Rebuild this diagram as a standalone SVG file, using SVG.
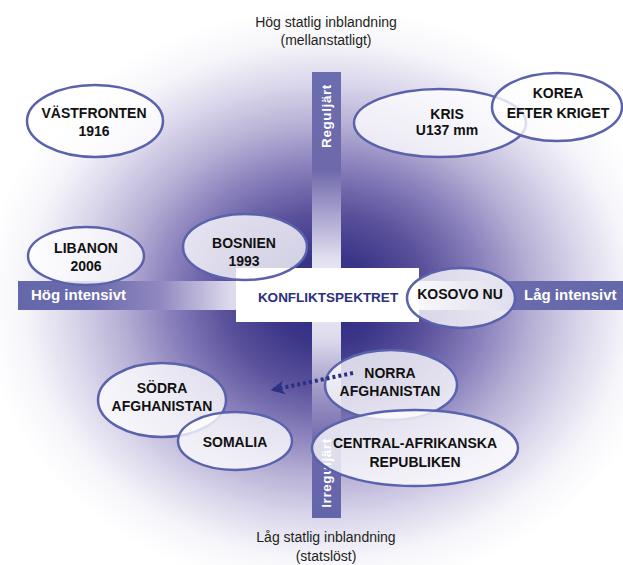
<svg xmlns="http://www.w3.org/2000/svg" width="623" height="565" viewBox="0 0 623 565">
<defs>
<radialGradient id="bg" gradientUnits="userSpaceOnUse" cx="327" cy="300" r="345" gradientTransform="translate(327,300) scale(1,0.85) translate(-327,-300)">
<stop offset="0" stop-color="#2a2a7e"/>
<stop offset="0.15" stop-color="#3a3588"/>
<stop offset="0.3" stop-color="#5a519b"/>
<stop offset="0.45" stop-color="#867dba"/>
<stop offset="0.6" stop-color="#b7b0d5"/>
<stop offset="0.75" stop-color="#dcd8ec"/>
<stop offset="0.88" stop-color="#f6f5fa"/>
<stop offset="1" stop-color="#ffffff"/>
</radialGradient>
<linearGradient id="vbar" gradientUnits="userSpaceOnUse" x1="0" y1="72" x2="0" y2="518">
<stop offset="0" stop-color="#6a6dae"/>
<stop offset="0.22" stop-color="#6e69ab"/>
<stop offset="0.31" stop-color="#a49ecc"/>
<stop offset="0.42" stop-color="#e2e0ef"/>
<stop offset="0.5" stop-color="#f2f1f8"/>
<stop offset="0.6" stop-color="#dcd9ec"/>
<stop offset="0.72" stop-color="#9d96c6"/>
<stop offset="0.84" stop-color="#6c66aa"/>
<stop offset="1" stop-color="#6466aa"/>
</linearGradient>
<linearGradient id="hbar" gradientUnits="userSpaceOnUse" x1="18" y1="0" x2="623" y2="0">
<stop offset="0" stop-color="#6468aa"/>
<stop offset="0.12" stop-color="#6a6aac"/>
<stop offset="0.235" stop-color="#9088c0"/>
<stop offset="0.35" stop-color="#dcd9ec"/>
<stop offset="0.51" stop-color="#ffffff"/>
<stop offset="0.665" stop-color="#dcd9ec"/>
<stop offset="0.78" stop-color="#8a84bc"/>
<stop offset="0.82" stop-color="#6a6aac"/>
<stop offset="1" stop-color="#6468aa"/>
</linearGradient>
<marker id="ah" markerWidth="14" markerHeight="14" viewBox="0 0 10 10" refX="9" refY="5" orient="auto" markerUnits="userSpaceOnUse">
<path d="M0,0 L10,5 L0,10 L3,5 z" fill="#2b3183"/>
</marker>
<style>
.ell{fill:#ffffff;fill-opacity:0.78;stroke:#5a62ab;stroke-width:2.5}
.nt{font-family:"Liberation Sans",Arial,sans-serif;font-weight:bold;font-size:14px;fill:#111111;text-anchor:middle}
.ax{font-family:"Liberation Sans",Arial,sans-serif;font-size:14px;fill:#231f20;text-anchor:middle}
.bl{font-family:"Liberation Sans",Arial,sans-serif;font-weight:bold;font-size:15px;fill:#ffffff}
.vl{font-family:"Liberation Sans",Arial,sans-serif;font-weight:bold;font-size:13.5px;fill:#ffffff;text-anchor:middle;letter-spacing:0.6px}
</style>
</defs>
<rect x="0" y="0" width="623" height="565" fill="url(#bg)"/>
<rect x="312" y="72" width="29" height="446" fill="url(#vbar)"/>
<rect x="18" y="281" width="605" height="29" fill="url(#hbar)"/>
<g id="axis-labels">
<text class="ax" x="326" y="27">Hög statlig inblandning</text>
<text class="ax" x="326" y="45">(mellanstatligt)</text>
<text class="ax" x="326" y="542">Låg statlig inblandning</text>
<text class="ax" x="326" y="561">(statslöst)</text>
<text class="bl" x="31" y="300">Hög intensivt</text>
<text class="bl" x="524" y="300">Låg intensivt</text>
<text class="vl" transform="translate(331,116) rotate(-90)">Reguljärt</text>
<text class="vl" transform="translate(331,473) rotate(-90)">Irreguljärt</text>
</g>
<g id="center">
<rect x="236" y="268" width="183" height="54" fill="#ffffff"/>
<text x="328" y="302" font-family="Liberation Sans, Arial, sans-serif" font-weight="bold" font-size="13.5" fill="#2a2f80" text-anchor="middle">KONFLIKTSPEKTRET</text>
</g>
<g id="vastfronten">
<ellipse class="ell" cx="95" cy="121" rx="68" ry="36"/>
<text class="nt" x="94" y="118">VÄSTFRONTEN</text>
<text class="nt" x="94" y="136">1916</text>
</g>
<g id="kris">
<ellipse class="ell" cx="440" cy="123" rx="86" ry="34"/>
<text class="nt" x="447" y="119">KRIS</text>
<text class="nt" x="447" y="135">U137 mm</text>
</g>
<g id="korea">
<ellipse class="ell" cx="557" cy="107" rx="65" ry="34"/>
<text class="nt" x="558" y="98">KOREA</text>
<text class="nt" x="558" y="118">EFTER KRIGET</text>
</g>
<g id="libanon">
<ellipse class="ell" cx="86" cy="256" rx="58" ry="29"/>
<text class="nt" x="86" y="253">LIBANON</text>
<text class="nt" x="86" y="271">2006</text>
</g>
<g id="bosnien">
<ellipse class="ell" cx="245" cy="247" rx="62" ry="33"/>
<text class="nt" x="244" y="248">BOSNIEN</text>
<text class="nt" x="244" y="266">1993</text>
</g>
<g id="kosovo">
<ellipse class="ell" cx="461" cy="298" rx="54" ry="30"/>
<text class="nt" x="460" y="299">KOSOVO NU</text>
</g>
<g id="sodra">
<ellipse class="ell" cx="162" cy="400" rx="64" ry="37"/>
<text class="nt" x="162" y="393">SÖDRA</text>
<text class="nt" x="162" y="411">AFGHANISTAN</text>
</g>
<g id="somalia">
<ellipse class="ell" cx="235" cy="441" rx="57" ry="29"/>
<text class="nt" x="235" y="447">SOMALIA</text>
</g>
<g id="norra">
<ellipse class="ell" cx="391" cy="385" rx="66" ry="35"/>
<text class="nt" x="390" y="378">NORRA</text>
<text class="nt" x="390" y="396">AFGHANISTAN</text>
</g>
<g id="car">
<ellipse class="ell" cx="415" cy="448" rx="103" ry="38"/>
<text class="nt" x="415" y="448">CENTRAL-AFRIKANSKA</text>
<text class="nt" x="415" y="467">REPUBLIKEN</text>
</g>
<g id="connectors">
<line x1="353" y1="373" x2="272" y2="390" stroke="#2b3183" stroke-width="4" stroke-dasharray="3 3" marker-end="url(#ah)"/>
</g>
</svg>
